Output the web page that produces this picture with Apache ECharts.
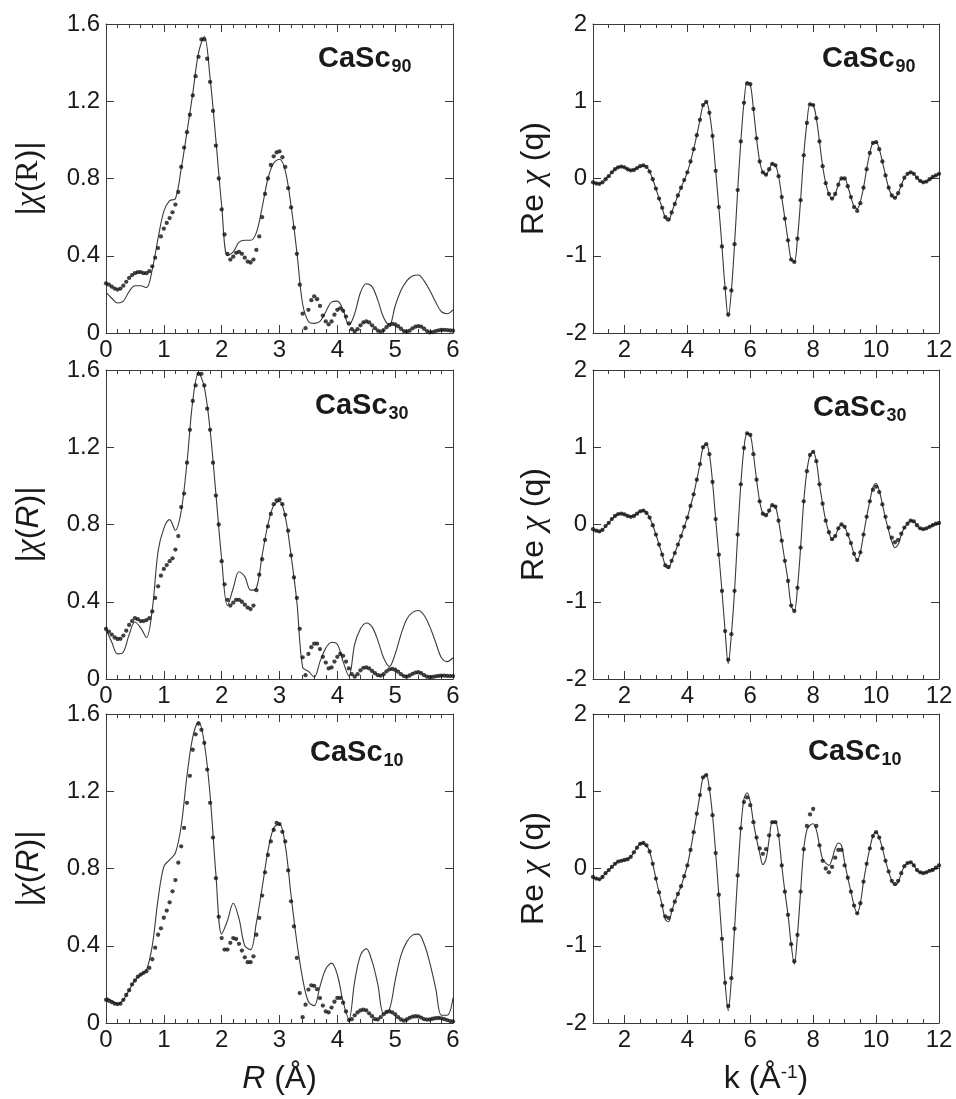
<!DOCTYPE html>
<html><head><meta charset="utf-8">
<script src="https://cdn.jsdelivr.net/npm/echarts@6/dist/echarts.min.js"></script>
<style>html,body{margin:0;padding:0;background:#fff}#c{width:956px;height:1099px}</style>
</head><body><div id="c"></div>
<script>
// ---------- DATA ----------
// |chi(R)| panels: R grid start 0; dots step 0.05, fit line step 0.1
const rDotStep = 0.05, rLineStep = 0.1, rStart = 0;
const kStep = 0.1, kStart = 1;

const casc90R_dots = [
0.257,0.25,0.24,0.23,0.225,0.23,0.245,0.265,0.285,0.30,
0.31,0.315,0.315,0.31,0.31,0.32,0.345,0.39,0.44,0.50,
0.54,0.57,0.595,0.625,0.665,0.73,0.86,0.96,1.04,1.13,
1.23,1.33,1.43,1.52,1.52,1.42,1.30,1.15,0.97,0.80,
0.64,0.51,0.41,0.38,0.395,0.415,0.42,0.41,0.39,0.37,
0.365,0.38,0.43,0.50,0.60,0.72,0.80,0.87,0.915,0.935,
0.94,0.91,0.86,0.75,0.65,0.545,0.41,0.25,0.10,0.025,
0.12,0.17,0.19,0.175,0.14,0.09,0.06,0.045,0.06,0.095,
0.12,0.128,0.115,0.085,0.05,0.02,0.008,0.02,0.04,0.055,
0.06,0.055,0.04,0.025,0.012,0.007,0.015,0.03,0.042,0.047,
0.045,0.035,0.022,0.01,0.007,0.012,0.024,0.033,0.036,0.033,
0.022,0.01,0.003,0.005,0.01,0.014,0.016,0.016,0.015,0.013,
0.012];
const casc90R_line = [
0.21,0.18,0.155,0.165,0.215,0.245,0.245,0.235,0.33,0.49,
0.63,0.685,0.695,0.85,1.04,1.24,1.45,1.535,1.32,1.00,
0.66,0.40,0.42,0.47,0.48,0.48,0.52,0.65,0.80,0.88,
0.90,0.84,0.66,0.42,0.15,0.06,0.05,0.06,0.11,0.16,
0.165,0.12,0.04,0.10,0.21,0.255,0.24,0.17,0.08,0.04,
0.14,0.22,0.27,0.295,0.30,0.27,0.22,0.16,0.11,0.10,
0.12];

const casc30R_dots = [
0.259,0.245,0.23,0.215,0.207,0.208,0.225,0.25,0.28,0.30,
0.315,0.31,0.30,0.30,0.305,0.315,0.35,0.42,0.48,0.535,
0.57,0.59,0.61,0.625,0.67,0.74,0.89,0.96,1.12,1.29,
1.44,1.52,1.58,1.58,1.52,1.40,1.29,1.12,0.95,0.80,
0.61,0.49,0.41,0.38,0.395,0.41,0.41,0.40,0.385,0.37,
0.362,0.38,0.46,0.54,0.62,0.72,0.79,0.855,0.905,0.925,
0.93,0.905,0.85,0.768,0.64,0.526,0.42,0.26,0.112,0.02,
0.13,0.165,0.183,0.183,0.155,0.115,0.085,0.055,0.06,0.09,
0.115,0.13,0.12,0.09,0.055,0.025,0.012,0.025,0.045,0.058,
0.06,0.055,0.042,0.03,0.02,0.017,0.025,0.04,0.05,0.052,
0.048,0.038,0.025,0.015,0.012,0.018,0.027,0.033,0.035,0.03,
0.02,0.012,0.009,0.011,0.014,0.016,0.017,0.017,0.016,0.015,
0.015];
const casc30R_line = [
0.26,0.19,0.13,0.14,0.23,0.295,0.265,0.215,0.36,0.66,
0.78,0.825,0.77,0.87,1.12,1.44,1.585,1.51,1.29,0.96,
0.62,0.38,0.47,0.555,0.53,0.46,0.47,0.64,0.80,0.90,
0.92,0.84,0.64,0.40,0.06,0.04,0.01,0.09,0.16,0.19,
0.18,0.09,0.015,0.18,0.26,0.29,0.27,0.20,0.11,0.065,
0.13,0.23,0.31,0.345,0.355,0.33,0.27,0.19,0.11,0.09,
0.11];

const casc10R_dots = [
0.12,0.115,0.108,0.10,0.098,0.10,0.12,0.145,0.17,0.20,
0.22,0.24,0.25,0.26,0.268,0.285,0.33,0.39,0.457,0.49,
0.545,0.582,0.625,0.682,0.74,0.83,0.915,1.01,1.14,1.28,
1.415,1.495,1.55,1.518,1.45,1.312,1.14,0.96,0.75,0.55,
0.44,0.38,0.38,0.415,0.44,0.435,0.41,0.375,0.34,0.315,
0.315,0.345,0.457,0.544,0.66,0.78,0.87,0.94,1.0,1.036,
1.03,0.99,0.94,0.79,0.63,0.50,0.337,0.155,0.03,0.095,
0.173,0.195,0.192,0.175,0.129,0.09,0.06,0.055,0.08,0.11,
0.13,0.13,0.105,0.06,0.015,0.02,0.04,0.055,0.065,0.069,
0.065,0.05,0.035,0.02,0.018,0.03,0.045,0.057,0.06,0.055,
0.045,0.03,0.018,0.012,0.018,0.027,0.033,0.035,0.034,0.028,
0.02,0.017,0.018,0.022,0.025,0.026,0.024,0.02,0.015,0.01,
0.008];
const casc10R_line = [
0.135,0.115,0.10,0.12,0.17,0.22,0.25,0.275,0.40,0.64,
0.81,0.845,0.88,1.02,1.28,1.48,1.56,1.45,1.18,0.77,
0.46,0.53,0.62,0.54,0.40,0.38,0.52,0.70,0.89,1.01,
1.03,0.92,0.66,0.42,0.23,0.11,0.09,0.19,0.28,0.31,
0.25,0.11,0.02,0.216,0.35,0.385,0.32,0.20,0.05,0.07,
0.22,0.35,0.42,0.455,0.46,0.41,0.31,0.18,0.04,0.04,
0.13];

// Re chi(q) panels: k grid from 1 to 12, step 0.1
const casc90Q_dots = [
-0.05,-0.065,-0.07,-0.05,-0.01,0.03,0.08,0.12,0.145,0.155,
0.145,0.12,0.105,0.11,0.135,0.16,0.17,0.15,0.09,-0.01,
-0.13,-0.26,-0.38,-0.50,-0.53,-0.44,-0.33,-0.22,-0.12,-0.02,
0.08,0.22,0.38,0.56,0.76,0.95,0.99,0.85,0.55,0.10,
-0.37,-0.88,-1.42,-1.76,-1.45,-0.85,-0.15,0.48,0.98,1.23,
1.22,0.90,0.52,0.22,0.08,0.05,0.12,0.19,0.17,0.03,
-0.24,-0.52,-0.80,-1.05,-1.08,-0.78,-0.28,0.30,0.72,0.96,
0.95,0.78,0.48,0.16,-0.06,-0.20,-0.26,-0.20,-0.08,0.00,
0.00,-0.10,-0.24,-0.37,-0.42,-0.32,-0.12,0.12,0.33,0.46,
0.47,0.38,0.22,0.04,-0.12,-0.22,-0.25,-0.19,-0.09,0.01,
0.06,0.08,0.06,0.01,-0.03,-0.05,-0.04,-0.01,0.02,0.04,
0.06];
const casc90Q_line = [
-0.05,-0.065,-0.07,-0.05,-0.01,0.03,0.08,0.12,0.145,0.155,
0.145,0.12,0.105,0.11,0.135,0.16,0.17,0.15,0.09,-0.01,
-0.13,-0.26,-0.38,-0.51,-0.55,-0.44,-0.33,-0.22,-0.12,-0.02,
0.08,0.22,0.38,0.56,0.76,0.95,0.99,0.85,0.55,0.10,
-0.37,-0.88,-1.42,-1.79,-1.45,-0.85,-0.15,0.48,0.98,1.25,
1.22,0.90,0.52,0.22,0.08,0.05,0.12,0.19,0.17,0.03,
-0.24,-0.52,-0.80,-1.05,-1.08,-0.78,-0.28,0.30,0.72,0.96,
0.95,0.78,0.48,0.16,-0.06,-0.20,-0.26,-0.20,-0.08,0.00,
0.00,-0.10,-0.24,-0.36,-0.39,-0.30,-0.12,0.12,0.33,0.46,
0.47,0.38,0.22,0.04,-0.12,-0.22,-0.25,-0.19,-0.09,0.01,
0.06,0.08,0.06,0.01,-0.03,-0.05,-0.04,-0.01,0.02,0.04,
0.06];

const casc30Q_dots = [
-0.06,-0.08,-0.09,-0.07,-0.02,0.02,0.07,0.11,0.135,0.14,
0.13,0.11,0.10,0.11,0.14,0.17,0.18,0.15,0.09,-0.01,
-0.13,-0.26,-0.39,-0.53,-0.55,-0.47,-0.37,-0.26,-0.15,-0.03,
0.09,0.24,0.39,0.58,0.78,1.00,1.04,0.91,0.55,0.07,
-0.39,-0.86,-1.38,-1.75,-1.42,-0.86,-0.13,0.52,0.99,1.18,
1.16,0.91,0.58,0.30,0.14,0.12,0.18,0.25,0.23,0.05,
-0.21,-0.47,-0.73,-1.05,-1.12,-0.82,-0.30,0.30,0.69,0.90,
0.94,0.82,0.52,0.27,0.05,-0.10,-0.19,-0.15,-0.05,0.00,
-0.03,-0.13,-0.24,-0.38,-0.46,-0.36,-0.13,0.10,0.30,0.45,
0.49,0.42,0.26,0.10,-0.04,-0.17,-0.23,-0.20,-0.12,-0.04,
0.01,0.05,0.04,-0.01,-0.05,-0.06,-0.05,-0.03,-0.01,0.01,
0.02];
const casc30Q_line = [
-0.06,-0.08,-0.09,-0.07,-0.02,0.02,0.07,0.11,0.135,0.14,
0.13,0.11,0.10,0.11,0.14,0.17,0.18,0.15,0.09,-0.01,
-0.13,-0.26,-0.39,-0.53,-0.57,-0.47,-0.37,-0.26,-0.15,-0.03,
0.09,0.24,0.39,0.58,0.78,1.00,1.04,0.91,0.55,0.07,
-0.39,-0.86,-1.38,-1.80,-1.42,-0.86,-0.13,0.52,0.99,1.18,
1.16,0.91,0.58,0.30,0.14,0.12,0.18,0.25,0.23,0.05,
-0.21,-0.47,-0.73,-1.05,-1.12,-0.82,-0.30,0.30,0.69,0.90,
0.94,0.82,0.52,0.27,0.05,-0.10,-0.19,-0.15,-0.05,0.00,
-0.03,-0.13,-0.24,-0.38,-0.46,-0.36,-0.13,0.10,0.30,0.48,
0.53,0.44,0.26,0.08,-0.08,-0.22,-0.30,-0.26,-0.14,-0.04,
0.01,0.05,0.04,-0.01,-0.05,-0.06,-0.05,-0.03,-0.01,0.01,
0.02];

const casc10Q_dots = [
-0.11,-0.13,-0.14,-0.11,-0.06,-0.02,0.02,0.06,0.09,0.10,
0.11,0.12,0.15,0.21,0.27,0.32,0.33,0.30,0.22,0.06,
-0.13,-0.31,-0.48,-0.62,-0.64,-0.54,-0.43,-0.33,-0.23,-0.10,
0.04,0.24,0.47,0.71,0.95,1.18,1.21,1.03,0.69,0.20,
-0.34,-0.91,-1.48,-1.78,-1.42,-0.78,-0.09,0.52,0.86,0.92,
0.82,0.60,0.40,0.26,0.19,0.25,0.43,0.60,0.60,0.43,
0.04,-0.30,-0.60,-0.98,-1.20,-0.86,-0.30,0.25,0.55,0.70,
0.77,0.55,0.30,0.10,0.00,-0.05,0.02,0.14,0.24,0.24,
0.04,-0.12,-0.30,-0.48,-0.58,-0.45,-0.17,0.06,0.26,0.42,
0.47,0.40,0.26,0.10,-0.04,-0.16,-0.20,-0.16,-0.06,0.03,
0.07,0.08,0.04,-0.02,-0.05,-0.06,-0.05,-0.03,-0.02,0.01,
0.04];
const casc10Q_line = [
-0.11,-0.13,-0.14,-0.11,-0.06,-0.02,0.02,0.06,0.09,0.10,
0.11,0.12,0.15,0.21,0.27,0.32,0.33,0.30,0.22,0.06,
-0.13,-0.31,-0.48,-0.66,-0.69,-0.56,-0.43,-0.33,-0.23,-0.10,
0.04,0.24,0.47,0.71,0.95,1.18,1.21,1.03,0.69,0.20,
-0.34,-0.91,-1.48,-1.84,-1.42,-0.78,-0.09,0.52,0.90,0.98,
0.86,0.60,0.38,0.20,0.05,0.12,0.38,0.60,0.60,0.43,
0.04,-0.30,-0.60,-0.98,-1.24,-0.86,-0.30,0.25,0.50,0.56,
0.58,0.50,0.30,0.12,0.07,0.04,0.12,0.26,0.33,0.30,
0.08,-0.12,-0.30,-0.48,-0.58,-0.45,-0.17,0.06,0.26,0.42,
0.47,0.40,0.26,0.10,-0.04,-0.16,-0.22,-0.18,-0.06,0.03,
0.07,0.08,0.04,-0.02,-0.05,-0.06,-0.05,-0.03,-0.02,0.01,
0.04];

// tick labels
const rTicks = [0, 1, 2, 3, 4, 5, 6];
const kTicks = [2, 4, 6, 8, 10, 12];
const chiRTicks = [0, 0.4, 0.8, 1.2, 1.6];
const reQTicks = [-2, -1, 0, 1, 2];
const sampleNames = ['90', '30', '10'];

// ---------- LAYOUT / STYLE ----------
const FONT = "'Liberation Sans', Arial, sans-serif";
const AX = '#3a3a3a', TXT = '#1a1a1a';
const grids = [
  {left:106, top:24,  width:347, height:309},
  {left:593, top:24,  width:346, height:309},
  {left:106, top:370, width:347, height:309},
  {left:593, top:370, width:346, height:309},
  {left:106, top:714, width:347, height:309},
  {left:593, top:714, width:346, height:309}
];
const titlePos = [[318,62],[822,62],[315,409],[813,411],[310,756],[808,755]];

function pts(start, step, vals) {
  return vals.map((v, i) => [+(start + i * step).toFixed(3), v]);
}
function minorVals(min, max, step) {
  const out = []; for (let i = 0; min + i * step <= max + 1e-9; i++) out.push(+(min + i * step).toFixed(3)); return out;
}

const xAxes = [], yAxes = [], series = [], graphics = [];

function xPair(g, pos, min, max, minorStep, majors, withLabels, name) {
  const idx = xAxes.length;
  xAxes.push({
    gridIndex: g, type: 'value', position: pos, min: min, max: max,
    splitLine: {show: false},
    axisLine: {show: true, onZero: false, lineStyle: {color: AX, width: 1}},
    axisTick: {show: true, inside: true, length: 4, customValues: minorVals(min, max, minorStep), lineStyle: {color: AX, width: 1}},
    axisLabel: {show: withLabels, customValues: majors, fontSize: 24, fontFamily: FONT, color: TXT, margin: 5},
    name: name ? name.text : '', nameLocation: 'middle', nameGap: name ? name.gap : 0,
    nameTextStyle: name ? name.style : {}
  });
  xAxes.push({
    gridIndex: g, type: 'value', position: pos, min: min, max: max,
    splitLine: {show: false},
    axisLine: {show: false, onZero: false},
    axisTick: {show: true, inside: true, length: 8, customValues: majors, lineStyle: {color: AX, width: 1}},
    axisLabel: {show: false}
  });
  return idx;
}
function yAxis(g, pos, min, max, interval, withLabels, name) {
  const idx = yAxes.length;
  yAxes.push({
    gridIndex: g, type: 'value', position: pos, min: min, max: max, interval: interval,
    splitLine: {show: false},
    axisLine: {show: true, onZero: false, lineStyle: {color: AX, width: 1}},
    axisTick: {show: true, inside: true, length: 8, lineStyle: {color: AX, width: 1}},
    axisLabel: {show: withLabels, fontSize: 24, fontFamily: FONT, color: TXT, margin: 6},
    name: name ? name.text : '', nameLocation: 'middle', nameRotate: 90, nameGap: name ? name.gap : 0,
    nameTextStyle: name ? name.style : {}
  });
  return idx;
}

const nameRich = {
  n: {fontFamily: FONT, fontSize: 32, color: TXT},
  c: {fontFamily: "'Liberation Serif', serif", fontStyle: 'italic', fontSize: 34, color: TXT},
  r: {fontFamily: "'Liberation Serif', serif", fontSize: 32, color: TXT},
  i: {fontFamily: FONT, fontStyle: 'italic', fontSize: 32, color: TXT},
  s: {fontFamily: FONT, fontSize: 19, color: TXT, verticalAlign: 'top', padding: [0, 0, 12, 0]}
};

const rPanels = [
  {dots: casc90R_dots, line: casc90R_line, yname: '{n||}{c|χ}{n|(}{r|R}{n|)|}'},
  {dots: casc30R_dots, line: casc30R_line, yname: '{n||}{c|χ}{n|(}{i|R}{n|)|}'},
  {dots: casc10R_dots, line: casc10R_line, yname: '{n||}{c|χ}{n|(}{i|R}{n|)|}'}
];
const qPanels = [
  {dots: casc90Q_dots, line: casc90Q_line},
  {dots: casc30Q_dots, line: casc30Q_line},
  {dots: casc10Q_dots, line: casc10Q_line}
];

const DOT = 4.3;
for (let row = 0; row < 3; row++) {
  // left: |chi(R)|
  let g = row * 2;
  const lastRow = row === 2;
  let xi = xPair(g, 'bottom', 0, 6, 0.2, rTicks, true,
    lastRow ? {text: '{i|R}{n| (Å)}', gap: 40, style: {rich: nameRich}} : null);
  xPair(g, 'top', 0, 6, 0.2, rTicks, false, null);
  let yi = yAxis(g, 'left', 0, 1.6, 0.4, true, {text: rPanels[row].yname, gap: 60, style: {rich: nameRich}});
  yAxis(g, 'right', 0, 1.6, 0.4, false, null);
  series.push({type: 'line', xAxisIndex: xi, yAxisIndex: yi, data: pts(rStart, rLineStep, rPanels[row].line),
    showSymbol: false, smooth: 0.35, lineStyle: {width: 1.1, color: '#3a3a3a'}, z: 2, animation: false, silent: true});
  series.push({type: 'scatter', xAxisIndex: xi, yAxisIndex: yi, data: pts(rStart, rDotStep, rPanels[row].dots),
    symbolSize: DOT, itemStyle: {color: '#111'}, z: 3, animation: false, silent: true});

  // right: Re chi(q)
  g = row * 2 + 1;
  xi = xPair(g, 'bottom', 1, 12, 0.5, kTicks, true,
    lastRow ? {text: '{n|k (Å}{s|-1}{n|)}', gap: 40, style: {rich: nameRich}} : null);
  xPair(g, 'top', 1, 12, 0.5, kTicks, false, null);
  yi = yAxis(g, 'left', -2, 2, 1, true, {text: '{n|Re }{c|χ}{n| (q)}', gap: 42, style: {rich: nameRich}});
  yAxis(g, 'right', -2, 2, 1, false, null);
  series.push({type: 'line', xAxisIndex: xi, yAxisIndex: yi, data: pts(kStart, kStep, qPanels[row].line),
    showSymbol: false, smooth: 0.35, lineStyle: {width: 1.1, color: '#3a3a3a'}, z: 2, animation: false, silent: true});
  series.push({type: 'scatter', xAxisIndex: xi, yAxisIndex: yi, data: pts(kStart, kStep, qPanels[row].dots),
    symbolSize: DOT, itemStyle: {color: '#111'}, z: 3, animation: false, silent: true});
}

// panel titles CaSc_n
const ctx = document.createElement('canvas').getContext('2d');
const TFS = 29, SFS = 18;
ctx.font = 'bold ' + TFS + 'px ' + FONT;
const mainW = ctx.measureText('CaSc').width;
for (let p = 0; p < 6; p++) {
  const [tx, ty] = titlePos[p];
  const sub = sampleNames[Math.floor(p / 2)];
  graphics.push({type: 'text', left: tx, top: ty - TFS * 0.62, silent: true,
    style: {text: 'CaSc', font: 'bold ' + TFS + 'px ' + FONT, fill: TXT}});
  graphics.push({type: 'text', left: tx + mainW + 1, top: ty - SFS * 0.62 + 7, silent: true,
    style: {text: sub, font: 'bold ' + SFS + 'px ' + FONT, fill: TXT}});
}

const chart = echarts.init(document.getElementById('c'), null, {renderer: 'canvas'});
chart.setOption({
  backgroundColor: '#ffffff',
  animation: false,
  grid: grids,
  xAxis: xAxes,
  yAxis: yAxes,
  series: series,
  graphic: graphics
});
</script>
</body></html>
